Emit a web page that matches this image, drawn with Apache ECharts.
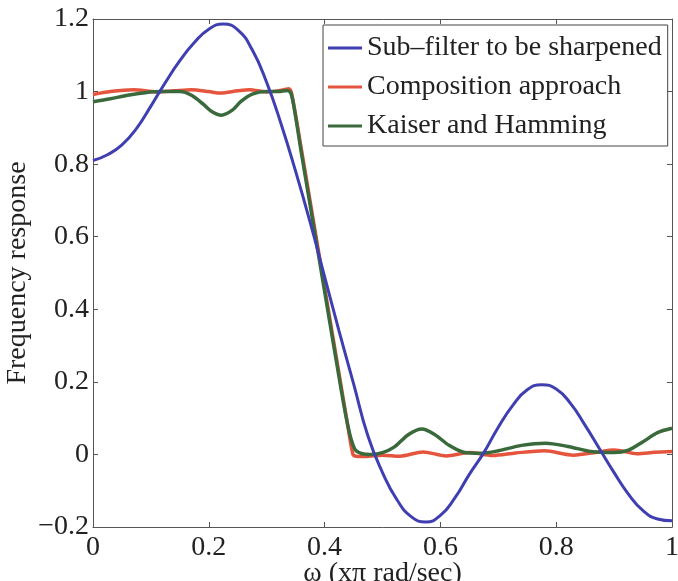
<!DOCTYPE html>
<html>
<head>
<meta charset="utf-8">
<title>Frequency response</title>
<script src="https://cdn.jsdelivr.net/npm/echarts@6/dist/echarts.min.js"></script>
<style>
  html, body { margin: 0; padding: 0; background: #fff; }
  #chart { width: 678px; height: 581px; }
</style>
</head>
<body>
<div id="chart"></div>
<script>
// values (x in units of pi rad/sec)
const seriesNames = ['Sub\u2013filter to be sharpened', 'Composition approach', 'Kaiser and Hamming'];

// sub-filter, sampled every 0.025
const subX = [0, 0.025, 0.05, 0.075, 0.1, 0.125, 0.15, 0.175, 0.2, 0.225, 0.25, 0.275, 0.3, 0.325, 0.35, 0.375,
  0.4, 0.425, 0.45, 0.475, 0.5, 0.525, 0.55, 0.575, 0.6, 0.625, 0.65, 0.675, 0.7, 0.725, 0.75, 0.775, 0.8, 0.825,
  0.85, 0.875, 0.9, 0.925, 0.95, 0.975, 1.0];
const subY = [0.81, 0.826, 0.853, 0.898, 0.96, 1.025, 1.085, 1.135, 1.172, 1.186, 1.17, 1.115, 1.025, 0.91, 0.78,
  0.64, 0.49, 0.34, 0.195, 0.05, -0.05, -0.125, -0.172, -0.186, -0.168, -0.12, -0.055, 0.005, 0.075, 0.135, 0.178,
  0.192, 0.18, 0.14, 0.08, 0.015, -0.05, -0.11, -0.155, -0.178, -0.183];

const compX = [0, 0.03, 0.07, 0.11, 0.14, 0.17, 0.2, 0.22, 0.25, 0.27, 0.3, 0.33, 0.338, 0.343, 0.36, 0.38, 0.4,
  0.42, 0.44, 0.449, 0.455, 0.47, 0.5, 0.53, 0.57, 0.61, 0.65, 0.69, 0.73, 0.78, 0.83, 0.87, 0.9, 0.94, 0.97, 1.0];
const compY = [0.992, 1.0, 1.005, 0.999, 1.002, 1.005, 1.0, 0.996, 1.002, 1.005, 0.999, 1.005, 1.008, 0.995, 0.84,
  0.65, 0.46, 0.27, 0.08, 0.0, -0.005, -0.006, -0.002, -0.005, 0.007, -0.004, 0.005, -0.003, 0.004, 0.01, -0.002,
  0.006, 0.012, 0.002, 0.006, 0.008];

const kaiserX = [0, 0.03, 0.06, 0.09, 0.12, 0.15, 0.17, 0.19, 0.205, 0.222, 0.24, 0.255, 0.275, 0.3, 0.32, 0.335,
  0.342, 0.35, 0.36, 0.38, 0.4, 0.42, 0.44, 0.452, 0.465, 0.48, 0.5, 0.52, 0.545, 0.568, 0.59, 0.615, 0.64, 0.67,
  0.7, 0.74, 0.782, 0.82, 0.86, 0.9, 0.925, 0.95, 0.975, 1.0];
const kaiserY = [0.972, 0.98, 0.99, 0.997, 1.0, 1.0, 0.99, 0.966, 0.945, 0.935, 0.948, 0.972, 0.993, 1.0, 1.0, 1.003,
  0.995, 0.93, 0.83, 0.64, 0.45, 0.26, 0.08, 0.015, 0.002, 0.0, 0.005, 0.02, 0.055, 0.07, 0.055, 0.025, 0.006, 0.003,
  0.01, 0.025, 0.031, 0.022, 0.008, 0.005, 0.012, 0.035, 0.06, 0.072];

const xTicks = [0, 0.2, 0.4, 0.6, 0.8, 1];
const yTicks = [-0.2, 0, 0.2, 0.4, 0.6, 0.8, 1, 1.2];

const colors = ['#3f3fb2', '#e5553d', '#3a6a3c'];
const font = '"Liberation Serif", "DejaVu Serif", serif';

function pairs(xs, ys) {
  return xs.map((x, i) => [x, ys[i]]);
}

const fmt = v => String(v).replace('-', '\u2212');

const chart = echarts.init(document.getElementById('chart'), null, { renderer: 'canvas' });

const boxAxis = (pos, extra) => Object.assign({
  type: 'value',
  position: pos,
  axisLine: { show: true, onZero: false, lineStyle: { color: '#555', width: 1 } },
  axisTick: { show: true, inside: true, length: 5, lineStyle: { color: '#555' } },
  splitLine: { show: false }
}, extra);

chart.setOption({
  animation: false,
  backgroundColor: '#fff',
  grid: { left: 93, right: 6, top: 19, bottom: 54, containLabel: false, outerBoundsMode: 'none' },
  legend: {
    data: seriesNames,
    orient: 'vertical',
    left: 323,
    top: 25,
    padding: [9, 6, 6, 5],
    itemGap: 11,
    itemWidth: 34,
    itemHeight: 3,
    icon: 'rect',
    borderColor: '#444',
    borderWidth: 1,
    backgroundColor: '#fff',
    textStyle: { fontFamily: font, fontSize: 28, color: '#222', lineHeight: 28 }
  },
  xAxis: [
    boxAxis('bottom', {
      min: xTicks[0], max: xTicks[xTicks.length - 1], interval: 0.2,
      name: '\u03c9 (x\u03c0 rad/sec)',
      nameLocation: 'middle',
      nameGap: 33,
      nameMoveOverlap: false,
      nameTextStyle: { fontFamily: font, fontSize: 28, color: '#222' },
      axisLabel: { margin: 7, fontFamily: font, fontSize: 28, color: '#222', formatter: fmt }
    }),
    boxAxis('top', {
      min: xTicks[0], max: xTicks[xTicks.length - 1], interval: 0.2,
      axisLabel: { show: false }
    })
  ],
  yAxis: [
    boxAxis('left', {
      min: yTicks[0], max: yTicks[yTicks.length - 1], interval: 0.2,
      name: 'Frequency response',
      nameLocation: 'middle',
      nameGap: 61,
      nameMoveOverlap: false,
      nameTextStyle: { fontFamily: font, fontSize: 28, color: '#222' },
      axisLabel: { margin: 4, fontFamily: font, fontSize: 28, color: '#222', formatter: fmt }
    }),
    boxAxis('right', {
      min: yTicks[0], max: yTicks[yTicks.length - 1], interval: 0.2,
      axisLabel: { show: false }
    })
  ],
  series: [
    {
      name: seriesNames[1], type: 'line', data: pairs(compX, compY),
      showSymbol: false, symbol: 'none', smooth: 0.3,
      itemStyle: { color: colors[1] }, lineStyle: { color: colors[1], width: 3.5 }
    },
    {
      name: seriesNames[2], type: 'line', data: pairs(kaiserX, kaiserY),
      showSymbol: false, symbol: 'none', smooth: 0.3,
      itemStyle: { color: colors[2] }, lineStyle: { color: colors[2], width: 3.5 }
    },
    {
      name: seriesNames[0], type: 'line', data: pairs(subX, subY),
      showSymbol: false, symbol: 'none', smooth: 0.5,
      itemStyle: { color: colors[0] }, lineStyle: { color: colors[0], width: 3 }
    }
  ]
});
</script>
</body>
</html>
